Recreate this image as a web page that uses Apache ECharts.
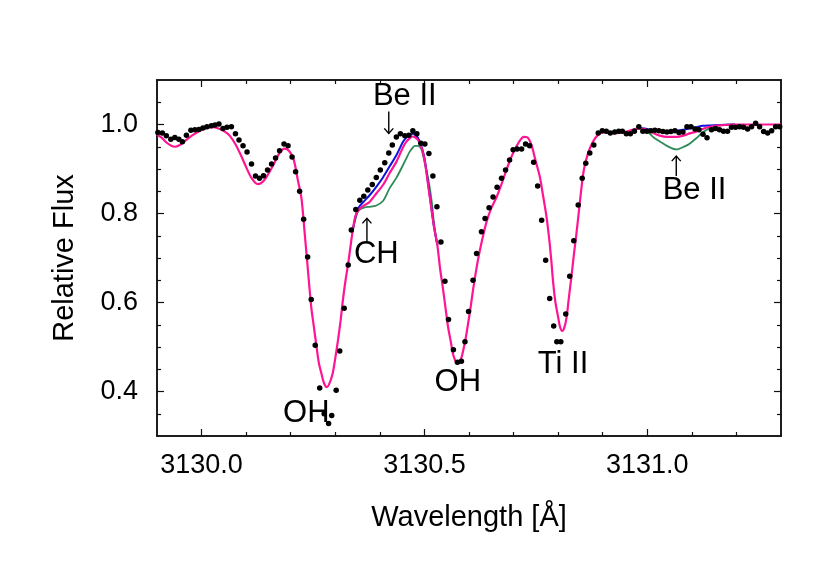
<!DOCTYPE html>
<html>
<head>
<meta charset="utf-8">
<script src="https://cdn.jsdelivr.net/npm/echarts@6/dist/echarts.min.js"></script>
<style>
  html, body { margin: 0; padding: 0; background: #fff; }
  #chart { width: 830px; height: 581px; }
</style>
</head>
<body>
<div id="chart"></div>
<script>
// observed spectrum (black dots)
var obsWave = [3129.902, 3129.912, 3129.921, 3129.931, 3129.940, 3129.949, 3129.957, 3129.966, 3129.976, 3129.985,
  3129.994, 3130.003, 3130.012, 3130.022, 3130.030, 3130.039, 3130.048, 3130.057, 3130.067, 3130.076,
  3130.084, 3130.093, 3130.102, 3130.112, 3130.121, 3130.130, 3130.139, 3130.148, 3130.157, 3130.166,
  3130.175, 3130.185, 3130.194, 3130.203, 3130.211, 3130.220, 3130.229, 3130.238, 3130.246, 3130.255,
  3130.265, 3130.275, 3130.285, 3130.292, 3130.302, 3130.310, 3130.320, 3130.329, 3130.336, 3130.346,
  3130.355, 3130.364, 3130.373, 3130.383, 3130.392, 3130.401, 3130.411, 3130.420, 3130.428, 3130.437,
  3130.446, 3130.456, 3130.465, 3130.474, 3130.483, 3130.492, 3130.501, 3130.510, 3130.519, 3130.528,
  3130.537, 3130.546, 3130.554, 3130.565, 3130.574, 3130.583, 3130.591, 3130.599, 3130.609, 3130.617,
  3130.628, 3130.636, 3130.645, 3130.654, 3130.663, 3130.673, 3130.682, 3130.691, 3130.699, 3130.708,
  3130.718, 3130.727, 3130.736, 3130.745, 3130.754, 3130.763, 3130.772, 3130.781, 3130.790, 3130.797,
  3130.806, 3130.817, 3130.826, 3130.835, 3130.845, 3130.854, 3130.862, 3130.871, 3130.880, 3130.890,
  3130.899, 3130.908, 3130.917, 3130.927, 3130.936, 3130.944, 3130.953, 3130.962, 3130.971, 3130.981,
  3130.990, 3130.999, 3131.008, 3131.017, 3131.026, 3131.035, 3131.044, 3131.053, 3131.062, 3131.071,
  3131.080, 3131.089, 3131.098, 3131.107, 3131.116, 3131.125, 3131.134, 3131.144, 3131.153, 3131.162,
  3131.171, 3131.180, 3131.189, 3131.198, 3131.207, 3131.216, 3131.225, 3131.234, 3131.243, 3131.252,
  3131.261, 3131.270, 3131.279, 3131.288, 3131.297];
var obsFlux = [0.982, 0.981, 0.975, 0.967, 0.971, 0.967, 0.961, 0.976, 0.987, 0.988,
  0.989, 0.992, 0.995, 0.997, 0.999, 1.001, 0.991, 0.994, 0.995, 0.979,
  0.965, 0.952, 0.938, 0.911, 0.884, 0.879, 0.885, 0.898, 0.911, 0.925,
  0.941, 0.956, 0.952, 0.927, 0.894, 0.850, 0.787, 0.702, 0.607, 0.504,
  0.408, 0.350, 0.328, 0.346, 0.403, 0.491, 0.587, 0.684, 0.763, 0.809,
  0.830, 0.839, 0.853, 0.865, 0.881, 0.898, 0.914, 0.936, 0.954, 0.972,
  0.979, 0.975, 0.976, 0.986, 0.979, 0.958, 0.956, 0.935, 0.884, 0.815,
  0.736, 0.648, 0.562, 0.494, 0.466, 0.468, 0.512, 0.580, 0.650, 0.710,
  0.759, 0.789, 0.813, 0.837, 0.859, 0.879, 0.898, 0.920, 0.943, 0.945,
  0.945, 0.956, 0.952, 0.915, 0.862, 0.785, 0.695, 0.609, 0.547, 0.512,
  0.512, 0.574, 0.659, 0.739, 0.819, 0.879, 0.913, 0.936, 0.954, 0.981,
  0.986, 0.985, 0.981, 0.983, 0.985, 0.985, 0.979, 0.979, 0.985, 0.995,
  0.985, 0.985, 0.986, 0.987, 0.986, 0.984, 0.983, 0.984, 0.986, 0.982,
  0.983, 0.995, 0.995, 0.990, 0.988, 0.978, 0.970, 0.988, 0.991, 0.988,
  0.985, 0.985, 0.994, 0.994, 0.995, 0.994, 0.990, 0.995, 1.003, 0.995,
  0.984, 0.981, 0.986, 0.995, 0.995];

// synthetic spectrum (pink, drawn on top of the other two)
var modelWave = [3129.900, 3129.911, 3129.922, 3129.931, 3129.940, 3129.951, 3129.964, 3129.980, 3129.996, 3130.012,
  3130.025, 3130.038, 3130.052, 3130.063, 3130.077, 3130.090, 3130.101, 3130.112, 3130.126, 3130.137,
  3130.148, 3130.162, 3130.175, 3130.186, 3130.197, 3130.207, 3130.216, 3130.224, 3130.231, 3130.238,
  3130.246, 3130.252, 3130.258, 3130.263, 3130.269, 3130.275, 3130.281, 3130.286, 3130.294, 3130.300,
  3130.306, 3130.312, 3130.317, 3130.323, 3130.329, 3130.336, 3130.340, 3130.344, 3130.349, 3130.355,
  3130.366, 3130.377, 3130.392, 3130.407, 3130.422, 3130.437, 3130.452, 3130.460, 3130.467, 3130.474,
  3130.478, 3130.486, 3130.493, 3130.497, 3130.501, 3130.508, 3130.516, 3130.522, 3130.529, 3130.535,
  3130.542, 3130.548, 3130.553, 3130.559, 3130.564, 3130.569, 3130.573, 3130.578, 3130.583, 3130.587,
  3130.593, 3130.598, 3130.604, 3130.609, 3130.615, 3130.620, 3130.625, 3130.631, 3130.639, 3130.650,
  3130.662, 3130.673, 3130.684, 3130.695, 3130.706, 3130.715, 3130.723, 3130.731, 3130.740, 3130.749,
  3130.759, 3130.766, 3130.774, 3130.781, 3130.785, 3130.789, 3130.794, 3130.800, 3130.804, 3130.809,
  3130.814, 3130.819, 3130.824, 3130.830, 3130.835, 3130.841, 3130.846, 3130.852, 3130.858, 3130.867,
  3130.878, 3130.889, 3130.901, 3130.911, 3130.923, 3130.938, 3130.953, 3130.967, 3130.983, 3130.999,
  3131.013, 3131.028, 3131.044, 3131.065, 3131.084, 3131.095, 3131.110, 3131.124, 3131.140, 3131.163,
  3131.196, 3131.252, 3131.300];
var pinkFlux = [0.977, 0.970, 0.959, 0.953, 0.950, 0.954, 0.964, 0.976, 0.986, 0.992,
  0.994, 0.991, 0.984, 0.975, 0.954, 0.927, 0.902, 0.880, 0.866, 0.871,
  0.886, 0.911, 0.936, 0.946, 0.940, 0.920, 0.875, 0.835, 0.760, 0.680,
  0.590, 0.545, 0.500, 0.465, 0.440, 0.418, 0.410, 0.416, 0.440, 0.475,
  0.515, 0.560, 0.605, 0.650, 0.688, 0.740, 0.767, 0.790, 0.803, 0.811,
  0.819, 0.826, 0.845, 0.864, 0.891, 0.916, 0.949, 0.962, 0.969, 0.973,
  0.972, 0.965, 0.949, 0.935, 0.916, 0.866, 0.808, 0.767, 0.729, 0.677,
  0.628, 0.583, 0.545, 0.513, 0.485, 0.470, 0.463, 0.465, 0.476, 0.492,
  0.522, 0.553, 0.592, 0.628, 0.666, 0.695, 0.720, 0.747, 0.780, 0.812,
  0.837, 0.866, 0.898, 0.927, 0.950, 0.965, 0.972, 0.971, 0.954, 0.920,
  0.882, 0.841, 0.792, 0.733, 0.690, 0.643, 0.600, 0.567, 0.546, 0.536,
  0.544, 0.567, 0.610, 0.660, 0.705, 0.755, 0.800, 0.855, 0.900, 0.935,
  0.961, 0.976, 0.982, 0.982, 0.980, 0.981, 0.984, 0.988, 0.991, 0.988,
  0.981, 0.975, 0.972, 0.972, 0.976, 0.980, 0.984, 0.990, 0.995, 0.998,
  1.000, 1.000, 1.000];

// where the blue and green syntheses part from the pink one (the two Be II lines)
var beWaveA = [3130.340, 3130.349, 3130.355, 3130.366, 3130.377, 3130.392, 3130.407, 3130.422, 3130.437, 3130.452,
  3130.460, 3130.467, 3130.474, 3130.478, 3130.486, 3130.493, 3130.497, 3130.501, 3130.508, 3130.516,
  3130.522, 3130.529];
var blueFluxA = [0.767, 0.806, 0.817, 0.829, 0.841, 0.860, 0.881, 0.906, 0.931, 0.961,
  0.971, 0.976, 0.979, 0.978, 0.969, 0.952, 0.938, 0.920, 0.870, 0.810,
  0.767, 0.729];
var greenFluxA = [0.767, 0.800, 0.809, 0.814, 0.815, 0.818, 0.828, 0.857, 0.880, 0.909,
  0.925, 0.939, 0.948, 0.952, 0.952, 0.945, 0.931, 0.912, 0.881, 0.830,
  0.774, 0.729];
var beWaveB = [3130.967, 3130.983, 3130.999, 3131.013, 3131.028, 3131.044, 3131.065, 3131.084, 3131.095, 3131.110,
  3131.124, 3131.140, 3131.163, 3131.196];
var blueFluxB = [0.988, 0.992, 0.990, 0.987, 0.985, 0.985, 0.986, 0.989, 0.991, 0.994,
  0.997, 0.998, 0.999, 1.000];
var greenFluxB = [0.988, 0.991, 0.985, 0.972, 0.962, 0.952, 0.944, 0.951, 0.957, 0.969,
  0.982, 0.992, 0.998, 1.000];

// labels: text, wavelength, flux
var noteText = ["Be II", "CH", "OH", "OH", "Ti II", "Be II"];
var noteWave = [3130.456, 3130.392, 3130.235, 3130.575, 3130.811, 3131.106];
var noteFlux = [1.062, 0.708, 0.350, 0.421, 0.461, 0.852];
// arrows: wavelength, tail flux, head flux
var arrowWave = [3130.420, 3130.371, 3131.065];
var arrowTail = [1.029, 0.733, 0.884];
var arrowHead = [0.980, 0.789, 0.929];

var X_MIN = 3129.9, X_MAX = 3131.3, Y_MIN = 0.3, Y_MAX = 1.1;
var xMajor = [3130.0, 3130.5, 3131.0];
var xMinor = [3130.1, 3130.2, 3130.3, 3130.4, 3130.6, 3130.7, 3130.8, 3130.9, 3131.1, 3131.2];
var yMajor = [0.4, 0.6, 0.8, 1.0];
var yMinor = [0.35, 0.45, 0.5, 0.55, 0.65, 0.7, 0.75, 0.85, 0.9, 0.95, 1.05];

function zip(a, b) { return a.map(function (v, i) { return [v, b[i]]; }); }

var FONT = "'Liberation Sans', Arial, Helvetica, sans-serif";
var frame = { show: true, lineStyle: { color: '#111', width: 1.5 } };

function axis(kind, pos, ticks, len, withLabels) {
  var a = {
    type: 'value',
    position: pos,
    min: kind === 'x' ? X_MIN : Y_MIN,
    max: kind === 'x' ? X_MAX : Y_MAX,
    axisLine: frame,
    axisTick: { show: true, inside: true, length: len, customValues: ticks, lineStyle: { color: '#111', width: 1.2 } },
    axisLabel: { show: false },
    splitLine: { show: false }
  };
  if (withLabels) {
    a.axisLabel = {
      show: true,
      customValues: ticks,
      color: '#000',
      fontSize: 27,
      fontFamily: FONT,
      margin: kind === 'x' ? 16 : 19,
      formatter: function (v) { return v.toFixed(1); }
    };
  }
  return a;
}

var xAxes = [
  axis('x', 'bottom', xMajor, 7, true),
  axis('x', 'bottom', xMinor, 4, false),
  axis('x', 'top', xMajor, 7, false),
  axis('x', 'top', xMinor, 4, false)
];
xAxes[0].name = 'Wavelength [Å]';
xAxes[0].nameLocation = 'middle';
xAxes[0].nameGap = 67;
xAxes[0].nameTextStyle = { fontSize: 29, color: '#000', fontFamily: FONT };

var yAxes = [
  axis('y', 'left', yMajor, 7, true),
  axis('y', 'left', yMinor, 4, false),
  axis('y', 'right', yMajor, 7, false),
  axis('y', 'right', yMinor, 4, false)
];
yAxes[0].name = 'Relative Flux';
yAxes[0].nameLocation = 'middle';
yAxes[0].nameGap = 78;
yAxes[0].nameTextStyle = { fontSize: 29, color: '#000', fontFamily: FONT };

function lineSeries(data, color, width, z) {
  return {
    type: 'line', data: data, symbol: 'none', smooth: 0.3, z: z,
    lineStyle: { color: color, width: width }, clip: true
  };
}

var chart = echarts.init(document.getElementById('chart'));
chart.setOption({
  animation: false,
  backgroundColor: '#fff',
  textStyle: { fontFamily: FONT },
  grid: { left: 157, right: 49, top: 80, bottom: 145, outerBoundsMode: 'none' },
  xAxis: xAxes,
  yAxis: yAxes,
  series: [
    lineSeries(zip(beWaveA, greenFluxA), '#2e8b57', 1.8, 2),
    lineSeries(zip(beWaveB, greenFluxB), '#2e8b57', 1.8, 2),
    lineSeries(zip(beWaveA, blueFluxA), '#1010e0', 2, 3),
    lineSeries(zip(beWaveB, blueFluxB), '#1010e0', 2, 3),
    lineSeries(zip(modelWave, pinkFlux), '#ff1493', 2.2, 4),
    {
      type: 'scatter', z: 5,
      data: zip(obsWave, obsFlux),
      symbolSize: 5.5,
      itemStyle: { color: '#000', opacity: 1 }
    },
    {
      type: 'custom', z: 6,
      data: arrowWave.map(function (w, i) { return [w, arrowTail[i], arrowHead[i]]; }),
      encode: { x: 0, y: [1, 2] },
      renderItem: function (params, api) {
        var p0 = api.coord([api.value(0), api.value(1)]);
        var p1 = api.coord([api.value(0), api.value(2)]);
        var dir = p1[1] > p0[1] ? 1 : -1;
        var st = { stroke: '#000', lineWidth: 1.4, fill: null };
        return {
          type: 'group',
          children: [
            { type: 'line', shape: { x1: p0[0], y1: p0[1], x2: p1[0], y2: p1[1] }, style: st },
            { type: 'polyline', shape: { points: [[p1[0] - 4.5, p1[1] - dir * 5], [p1[0], p1[1]], [p1[0] + 4.5, p1[1] - dir * 5]] }, style: st }
          ]
        };
      }
    },
    {
      type: 'scatter', z: 7,
      symbolSize: 0,
      data: noteText.map(function (t, i) { return { name: t, value: [noteWave[i], noteFlux[i]] }; }),
      label: {
        show: true, position: 'inside', formatter: '{b}',
        color: '#000', fontSize: 31, fontFamily: FONT,
        textBorderWidth: 0, opacity: 1
      }
    }
  ]
});
</script>
</body>
</html>
